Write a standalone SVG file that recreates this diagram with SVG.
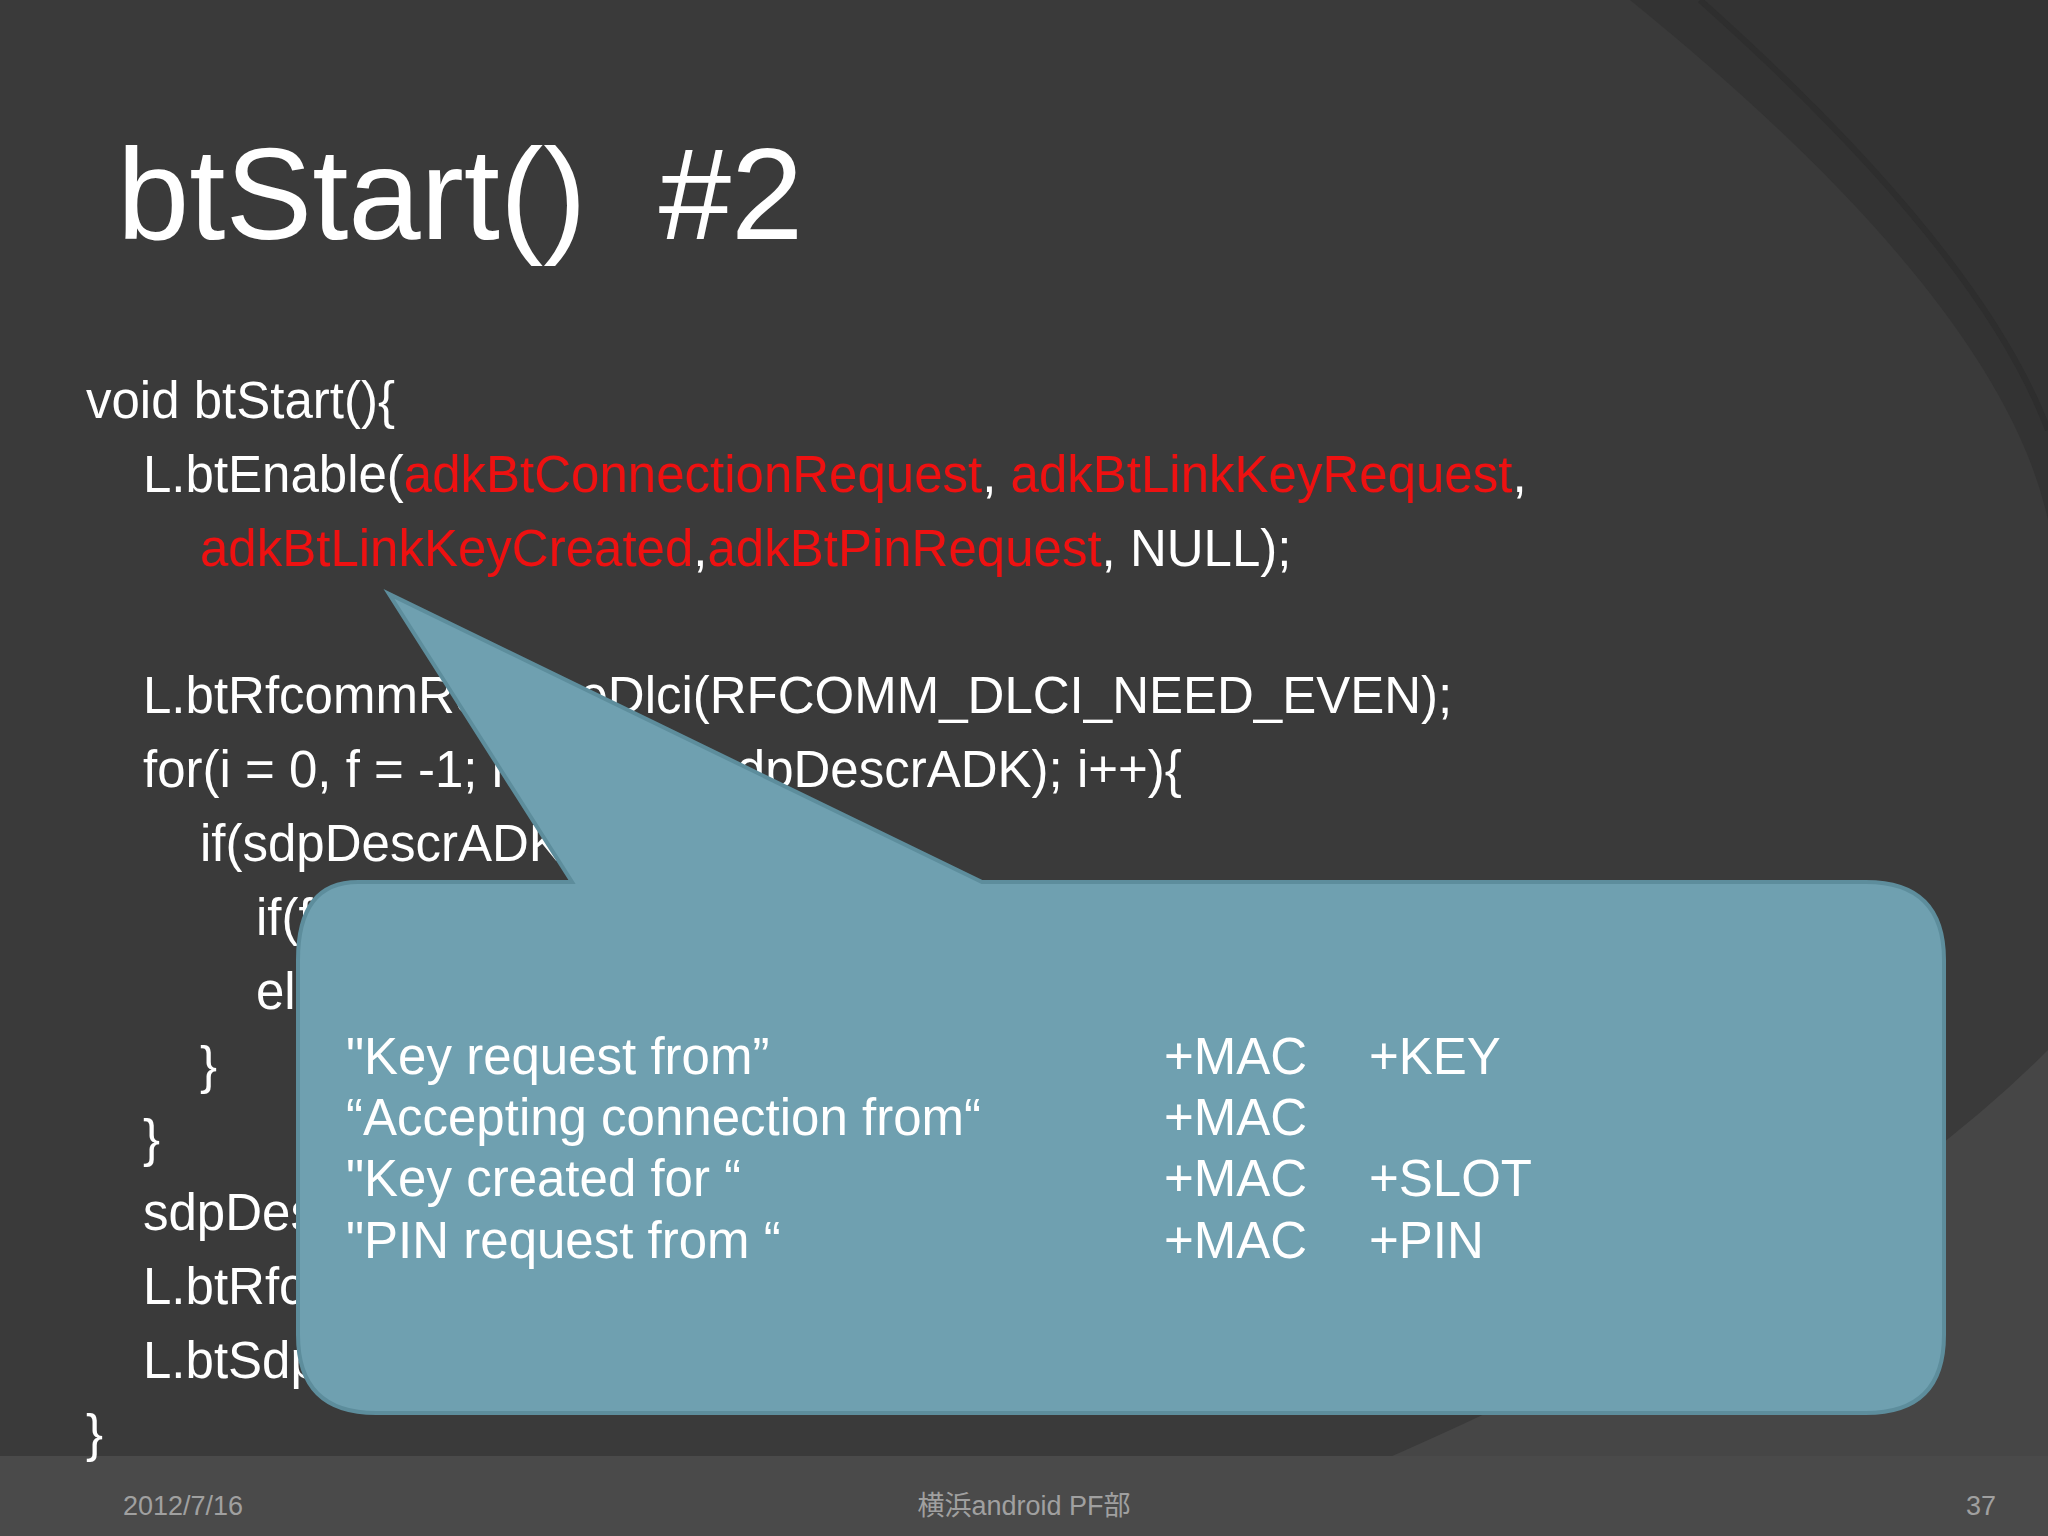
<svg xmlns="http://www.w3.org/2000/svg" width="2048" height="1536" viewBox="0 0 2048 1536">
<style>
.t{font-family:"Liberation Sans",Arial,sans-serif;fill:#ffffff}
.c{font-family:"Liberation Sans",Arial,sans-serif;font-size:51px;fill:#ffffff}
.r{fill:#ee1111}
.f{font-family:"Liberation Sans","Noto Sans CJK JP",sans-serif;font-size:27px;fill:#a0a0a0}
</style>
<rect width="2048" height="1536" fill="#3a3a3a"/>
<path d="M1630 0 Q2000 300 2048 520 L2048 0 Z" fill="#333333"/>
<path d="M1700 0 Q1980 250 2048 430" fill="none" stroke="#2e2e2e" stroke-width="6"/>
<path d="M1200 1536 Q1800 1300 2048 1050 L2048 1536 Z" fill="#464646"/>
<rect x="0" y="1456" width="2048" height="80" fill="#4a4a4a"/>
<text class="t" x="117" y="239" font-size="130">btStart()&#160; #2</text>
<g id="code">
<text class="c" x="86" y="418">void btStart(){</text>
<text class="c" x="143" y="492">L.btEnable(<tspan class="r">adkBtConnectionRequest</tspan>, <tspan class="r">adkBtLinkKeyRequest</tspan>,</text>
<text class="c" x="200" y="566"><tspan class="r">adkBtLinkKeyCreated</tspan>,<tspan class="r">adkBtPinRequest</tspan>, NULL);</text>
<text class="c" x="143" y="713">L.btRfcommReserveDlci(RFCOMM_DLCI_NEED_EVEN);</text>
<text class="c" x="143" y="787">for(i = 0, f = -1; i &lt; sizeof(sdpDescrADK); i++){</text>
<text class="c" x="200" y="861">if(sdpDescrADK[i] == 0x00){</text>
<text class="c" x="256" y="935">if(f</text>
<text class="c" x="256" y="1009">el</text>
<text class="c" x="200" y="1083">}</text>
<text class="c" x="143" y="1156">}</text>
<text class="c" x="143" y="1230">sdpDes</text>
<text class="c" x="143" y="1304">L.btRfc</text>
<text class="c" x="143" y="1378">L.btSdp</text>
<text class="c" x="86" y="1451">}</text>
</g>
<g id="callout">
<path d="M358 882 L572 882 L389 594 L982 882 L1866 882 Q1944 882 1944 960 L1944 1335 Q1944 1413 1866 1413 L376 1413 Q298 1413 298 1335 L298 960 Q298 882 358 882 Z" fill="#6fa0b0" stroke="#5d8d9c" stroke-width="4"/>
<g class="c">
<text x="346" y="1074">"Key request from”</text>
<text x="346" y="1135">“Accepting connection from“</text>
<text x="346" y="1196">"Key created for “</text>
<text x="346" y="1258">"PIN request from “</text>
<text x="1164" y="1074">+MAC</text>
<text x="1164" y="1135">+MAC</text>
<text x="1164" y="1196">+MAC</text>
<text x="1164" y="1258">+MAC</text>
<text x="1369" y="1074">+KEY</text>
<text x="1369" y="1196">+SLOT</text>
<text x="1369" y="1258">+PIN</text>
</g>
</g>
<text class="f" x="123" y="1515">2012/7/16</text>
<text class="f" x="1024" y="1515" text-anchor="middle">横浜android PF部</text>
<text class="f" x="1996" y="1515" text-anchor="end">37</text>
</svg>
